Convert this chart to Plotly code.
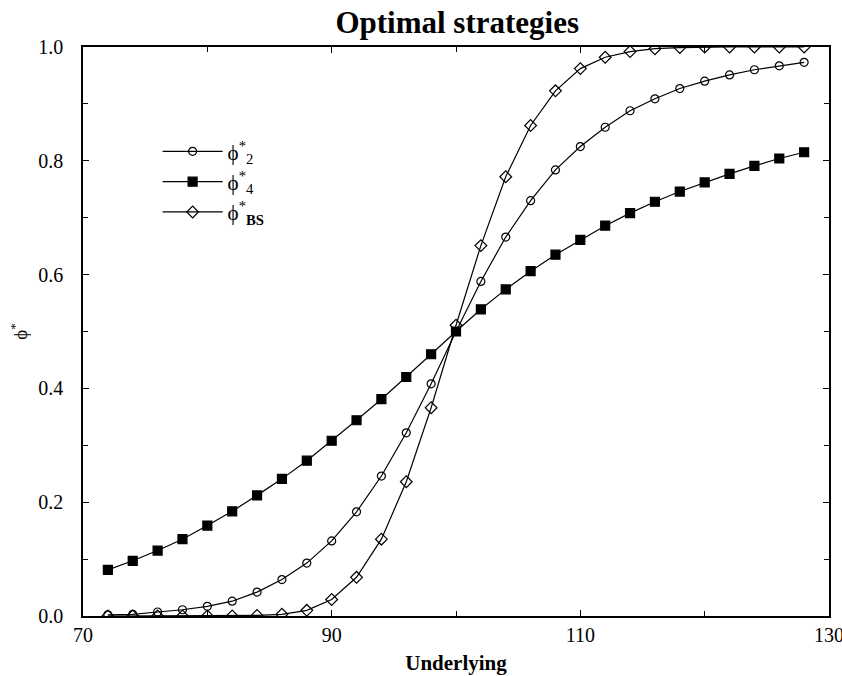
import plotly.graph_objects as go

underlying = [72, 74, 76, 78, 80, 82, 84, 86, 88, 90, 92, 94, 96, 98, 100,
              102, 104, 106, 108, 110, 112, 114, 116, 118, 120, 122, 124, 126, 128]
phi_2 = [0.002, 0.003, 0.007, 0.011, 0.017, 0.026, 0.042, 0.064, 0.093, 0.132,
         0.183, 0.246, 0.322, 0.408, 0.500, 0.588, 0.666, 0.730, 0.784, 0.825,
         0.859, 0.888, 0.909, 0.927, 0.940, 0.951, 0.960, 0.967, 0.973]
phi_4 = [0.081, 0.097, 0.115, 0.135, 0.159, 0.184, 0.212, 0.241, 0.273, 0.308,
         0.344, 0.381, 0.420, 0.460, 0.500, 0.539, 0.574, 0.606, 0.635, 0.661,
         0.686, 0.708, 0.728, 0.746, 0.762, 0.777, 0.791, 0.804, 0.815]
phi_bs = [0.000, 0.000, 0.000, 0.000, 0.000, 0.000, 0.001, 0.003, 0.010, 0.029,
          0.068, 0.135, 0.236, 0.366, 0.511, 0.651, 0.772, 0.862, 0.923, 0.962,
          0.982, 0.992, 0.997, 0.999, 1.000, 1.000, 1.000, 1.000, 1.000]

names = ["ϕ<sup>*</sup><sub>2</sub>", "ϕ<sup>*</sup><sub>4</sub>", "ϕ<sup>*</sup><sub><b>BS</b></sub>"]
series = [phi_2, phi_4, phi_bs]
symbols = ["circle-open", "square", "diamond-open"]
sizes = [8, 9, 9]

FONT = "Liberation Serif"

fig = go.Figure()
for name, ys, sym, sz in zip(names, series, symbols, sizes):
    fig.add_trace(go.Scatter(
        x=underlying, y=ys, name=name, mode="lines+markers",
        line=dict(color="black", width=1.2),
        marker=dict(symbol=sym, size=sz, color="black",
                    line=dict(color="black", width=1.2)),
    ))

axis_common = dict(
    showline=True, linecolor="black", linewidth=1.5, mirror="ticks",
    ticks="inside", ticklen=6, tickwidth=1.2, tickcolor="black",
    showgrid=False, zeroline=False, automargin=False,
    ticklabeloverflow="allow",
    tickfont=dict(family=FONT, size=20, color="black"),
)

fig.update_layout(
    width=842, height=676,
    paper_bgcolor="white", plot_bgcolor="white",
    font=dict(family=FONT, color="black"),
    margin=dict(l=83, r=13, t=47, b=60, autoexpand=False),
    title=dict(text="<b>Optimal strategies</b>", x=0.543, xanchor="center",
               y=0.967, yanchor="middle",
               font=dict(family=FONT, size=31, color="black")),
    xaxis=dict(range=[70, 130], tickvals=[70, 90, 110, 130],
               minor=dict(tickvals=[80, 100, 120], ticks="inside", ticklen=5,
                          tickcolor="black", tickwidth=1.2),
               title=dict(text="<b>Underlying</b>", standoff=11,
                          font=dict(family=FONT, size=21, color="black")),
               **axis_common),
    yaxis=dict(range=[0, 1], tickvals=[0, 0.2, 0.4, 0.6, 0.8, 1.0],
               tickformat=".1f", ticklabelstandoff=14,
               minor=dict(tickvals=[0.1, 0.3, 0.5, 0.7, 0.9], ticks="inside",
                          ticklen=5, tickcolor="black", tickwidth=1.2),
               title=dict(text="ϕ<sup>*</sup>", standoff=6,
                          font=dict(family=FONT, size=19, color="black")),
               **axis_common),
    legend=dict(x=0.1, y=0.852, xanchor="left", yanchor="top",
                bgcolor="rgba(0,0,0,0)", borderwidth=0, itemwidth=60,
                font=dict(family=FONT, size=21, color="black"),
                tracegroupgap=0),
    showlegend=True,
)

fig.write_html("out.html", config={"displayModeBar": False},
               post_script="document.body.style.margin='0px';")
